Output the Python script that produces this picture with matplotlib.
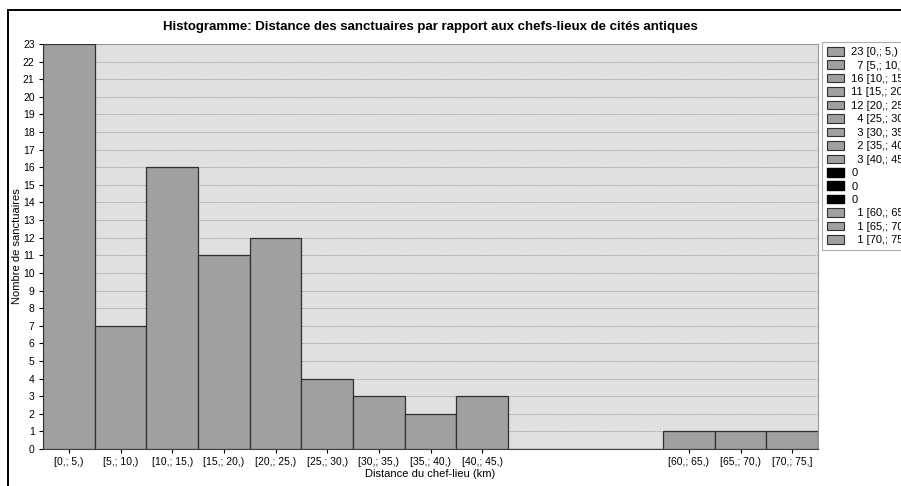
import matplotlib.pyplot as plt
from matplotlib.patches import Patch
from matplotlib.lines import Line2D

plt.rcParams['font.family'] = ['Liberation Sans', 'DejaVu Sans']

bin_edges = [0, 5, 10, 15, 20, 25, 30, 35, 40, 45, 50, 55, 60, 65, 70, 75]
counts = [23, 7, 16, 11, 12, 4, 3, 2, 3, 0, 0, 0, 1, 1, 1]
bin_labels = ['[0,; 5,)', '[5,; 10,)', '[10,; 15,)', '[15,; 20,)', '[20,; 25,)',
              '[25,; 30,)', '[30,; 35,)', '[35,; 40,)', '[40,; 45,)', '', '', '',
              '[60,; 65,)', '[65,; 70,)', '[70,; 75,]']

fig = plt.figure(figsize=(9.01, 4.86), dpi=100)
ax = fig.add_axes([43 / 901, 1 - 449 / 486, 775 / 901, 405 / 486])
ax.set_facecolor('#e0e0e0')

lefts = bin_edges[:-1]
ax.bar(lefts, counts, width=5, align='edge', color='#a0a0a0',
       edgecolor='#303030', linewidth=0.9, zorder=3)

ax.set_xlim(0, 75)
ax.set_ylim(0, 23)
ax.set_yticks(range(0, 24))
ax.grid(axis='y', linestyle=(0, (1, 1)), color='#888888', linewidth=0.6, zorder=0)

centers = [l + 2.5 for l, c in zip(lefts, counts) if c > 0]
ticklabels = [lab for lab, c in zip(bin_labels, counts) if c > 0]
ax.set_xticks(centers)
ax.set_xticklabels(ticklabels)
ax.tick_params(labelsize=7.5, length=3, width=0.8, pad=3)
for s in ['top', 'right']:
    ax.spines[s].set_color('#999999')
    ax.spines[s].set_linewidth(0.8)
for s in ['left', 'bottom']:
    ax.spines[s].set_color('#404040')

ax.set_ylabel('Nombre de sanctuaires', fontsize=8)
ax.yaxis.set_label_coords(-0.027, 0.5)
ax.set_xlabel('Distance du chef-lieu (km)', fontsize=8)
ax.xaxis.set_label_coords(0.5, -0.049)
fig.text(430 / 901, 1 - 27 / 486,
         'Histogramme: Distance des sanctuaires par rapport aux chefs-lieux de cités antiques',
         ha='center', va='center', fontsize=9.5, fontweight='bold')

# legend
handles = []
labels = []
for c, lab in zip(counts, bin_labels):
    if c > 0:
        handles.append(Patch(facecolor='#a0a0a0', edgecolor='#303030', linewidth=0.8))
        labels.append(f'{c} {lab}' if c >= 10 else '\u2007' + f'{c} {lab}')
    else:
        handles.append(Patch(facecolor='black', edgecolor='black'))
        labels.append('0')
leg = fig.legend(handles, labels, loc='upper left',
                 bbox_to_anchor=(822 / 901, 1 - 42 / 486), fontsize=8,
                 handlelength=1.5, handleheight=0.8, handletextpad=0.7,
                 labelspacing=0.3, borderaxespad=0, borderpad=0.45,
                 fancybox=False, frameon=True)
leg.get_frame().set_edgecolor('#999999')
leg.get_frame().set_linewidth(0.8)

# outer frame
fig.add_artist(Line2D([8 / 901, 8 / 901], [0, 1 - 10 / 486], color='black', linewidth=1.4,
                      transform=fig.transFigure))
fig.add_artist(Line2D([8 / 901, 1], [1 - 10 / 486, 1 - 10 / 486], color='black', linewidth=1.4,
                      transform=fig.transFigure))

fig.savefig('out.png', dpi=100)
